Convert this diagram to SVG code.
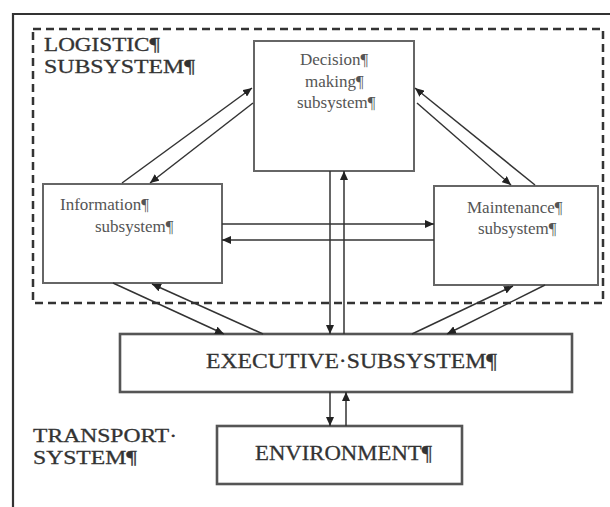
<svg xmlns="http://www.w3.org/2000/svg" width="610" height="507" viewBox="0 0 610 507">
<defs>
<marker id="ah" markerUnits="userSpaceOnUse" markerWidth="10" markerHeight="8" refX="9" refY="4" orient="auto">
<path d="M0,0 L9,4 L0,8 Z" fill="#222"/>
</marker>
<style>
.frame{fill:none;stroke:#333;stroke-width:2.2}
.dash{fill:none;stroke:#333;stroke-width:2.5;stroke-dasharray:8 5}
.box{fill:#fff;stroke:#666;stroke-width:2}
.bigbox{fill:#fff;stroke:#555;stroke-width:2.6}
.conn path{fill:none;stroke:#333;stroke-width:1.5;marker-end:url(#ah)}
.big{font-family:"Liberation Serif","Times New Roman",serif;font-size:22px;fill:#333;stroke:#333;stroke-width:0.3}
.mid{font-family:"Liberation Serif","Times New Roman",serif;font-size:19px;fill:#333;stroke:#333;stroke-width:0.3}
.small{font-family:"Liberation Serif","Times New Roman",serif;font-size:17px;fill:#555}
</style>
</defs>
<rect width="610" height="507" fill="#fff"/>
<g id="frame">
<path class="frame" d="M13,507 L13,14 L610,14"/>
</g>
<g id="logistic">
<rect class="dash" x="33" y="29" width="570" height="274"/>
<text class="mid" x="44" y="51" textLength="116" lengthAdjust="spacingAndGlyphs">LOGISTIC¶</text>
<text class="mid" x="44" y="73" textLength="151" lengthAdjust="spacingAndGlyphs">SUBSYSTEM¶</text>
</g>
<g id="transport">
<text class="mid" x="33" y="442" textLength="144" lengthAdjust="spacingAndGlyphs">TRANSPORT·</text>
<text class="mid" x="33" y="464" textLength="104" lengthAdjust="spacingAndGlyphs">SYSTEM¶</text>
</g>
<g id="decision">
<rect class="box" x="254" y="41" width="160" height="130"/>
<text class="small" x="300" y="65">Decision¶</text>
<text class="small" x="305" y="87">making¶</text>
<text class="small" x="297" y="108">subsystem¶</text>
</g>
<g id="information">
<rect class="box" x="43" y="184" width="179" height="99"/>
<text class="small" x="60" y="210">Information¶</text>
<text class="small" x="95" y="232">subsystem¶</text>
</g>
<g id="maintenance">
<rect class="box" x="434" y="186" width="164" height="99"/>
<text class="small" x="467" y="213">Maintenance¶</text>
<text class="small" x="478" y="234">subsystem¶</text>
</g>
<g id="executive">
<rect class="bigbox" x="120" y="334" width="452" height="58"/>
<text class="big" x="206" y="368" textLength="291" lengthAdjust="spacingAndGlyphs">EXECUTIVE·SUBSYSTEM¶</text>
</g>
<g id="environment">
<rect class="bigbox" x="217" y="426" width="245" height="58"/>
<text class="big" x="255" y="460" textLength="177" lengthAdjust="spacingAndGlyphs">ENVIRONMENT¶</text>
</g>
<g id="connectors" class="conn">
<path d="M122,183 L252,88"/>
<path d="M253,103 L150,183"/>
<path d="M417,103 L511,185"/>
<path d="M535,185 L415,88"/>
<path d="M222,224 L434,224"/>
<path d="M434,240 L222,240"/>
<path d="M330,171 L330,334"/>
<path d="M344,334 L344,171"/>
<path d="M113,283 L224,334"/>
<path d="M263,334 L152,284"/>
<path d="M545,285 L447,334"/>
<path d="M412,334 L513,286"/>
<path d="M330,392 L330,426"/>
<path d="M346,426 L346,392"/>
</g>
</svg>
